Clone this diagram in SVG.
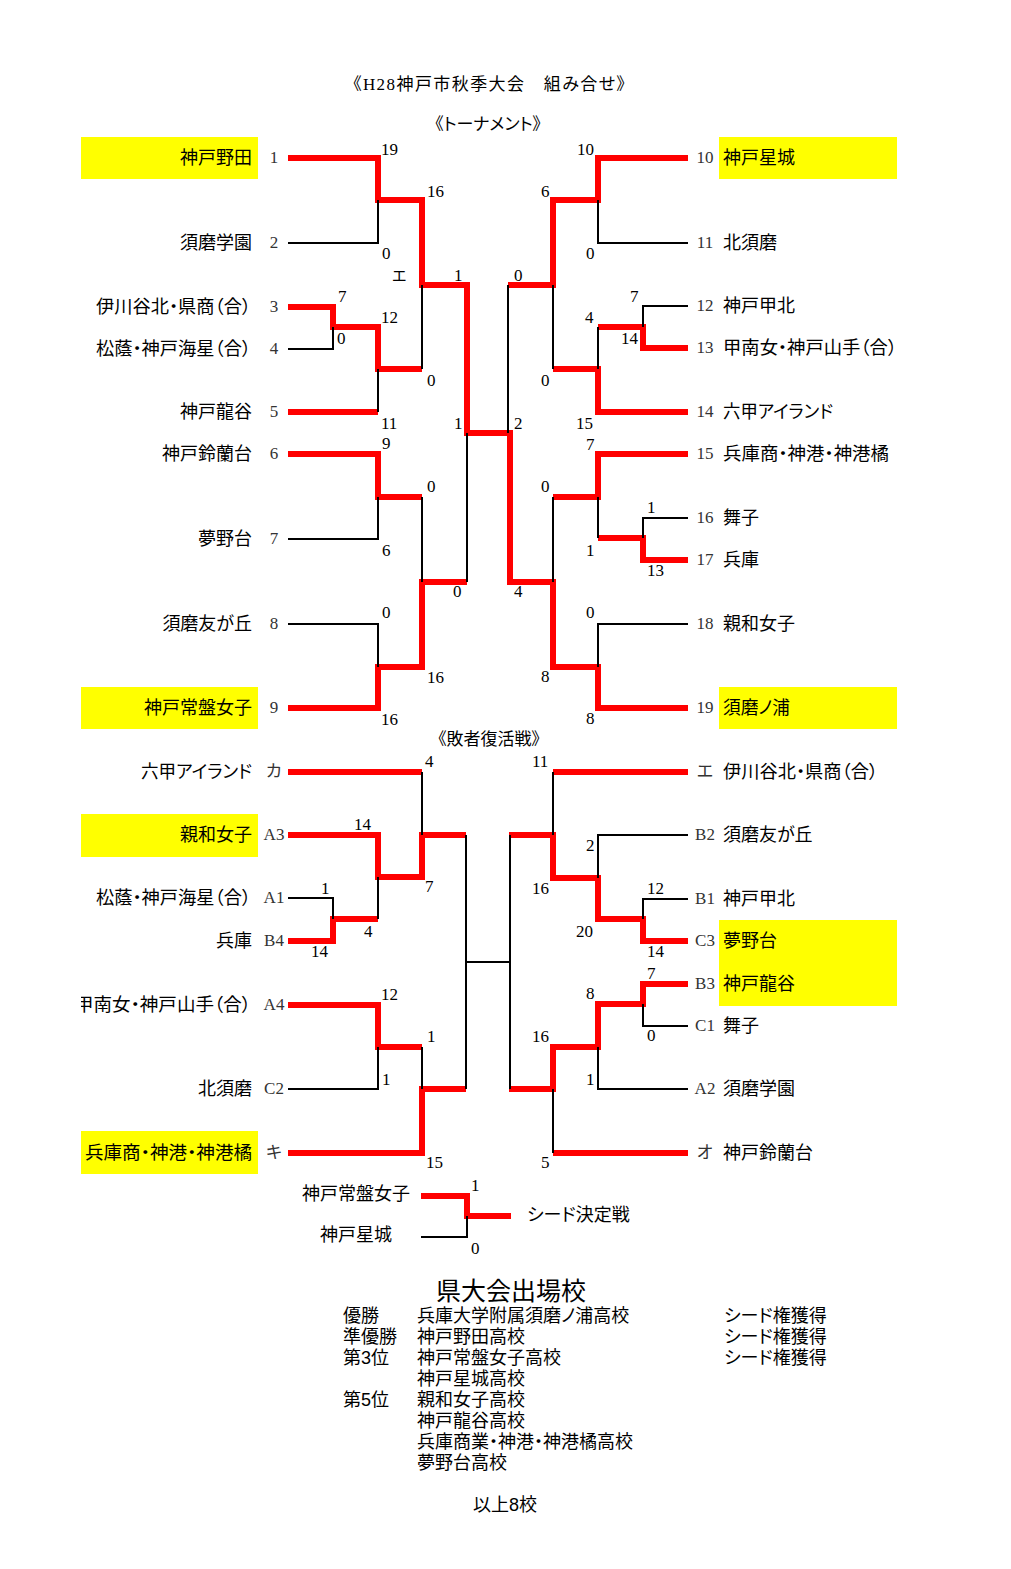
<svg xmlns="http://www.w3.org/2000/svg" width="1011" height="1569" viewBox="0 0 1011 1569">
<style>
.r{fill:none;stroke:#ff0000;stroke-width:6;stroke-linejoin:miter}
.b{fill:none;stroke:#000;stroke-width:2}
.y{fill:#ffff00}
.n{font-family:"Noto Sans CJK JP","Liberation Serif",sans-serif;font-size:18px;fill:#000;font-feature-settings:"palt"}
.nl{text-anchor:end}
.lb{font-family:"Liberation Serif","Noto Sans CJK JP",serif;font-size:17px;fill:#333;text-anchor:middle}
.s{font-family:"Liberation Serif",serif;font-size:17px;fill:#000}
.h{font-family:"Liberation Serif","Noto Sans CJK JP",serif;font-size:17px;fill:#000;font-feature-settings:"palt"}
.g{font-family:"Liberation Sans","Noto Sans CJK JP",sans-serif;font-size:18px;fill:#000;font-feature-settings:"palt"}
.big{font-size:25px}
.sm{font-size:15px}
</style>
<defs>
<clipPath id="clipL"><rect x="81" y="0" width="930" height="1569"/></clipPath>
</defs>
<rect width="1011" height="1569" fill="#fff"/>

<g id="headings">
<text class="h" x="353" y="90" textLength="272">《H28神戸市秋季大会　組み合せ》</text>
<text class="h" x="488" y="130" text-anchor="middle">《トーナメント》</text>
<text class="h" x="489" y="745" text-anchor="middle">《敗者復活戦》</text>
</g>

<g id="connectors">
<path class="r" d="M288,158 H378 V200 H422 V285 H467 V433 H510 V582 H553 V667 H598 V708 H688"/>
<path class="r" d="M288,307 H333 V327 H378 V369 H422"/>
<path class="r" d="M288,412 H378"/>
<path class="r" d="M288,454 H378 V497 H422"/>
<path class="r" d="M288,708 H378 V667 H422 V582 H467"/>
<path class="r" d="M688,158 H598 V200 H553 V285 H508"/>
<path class="r" d="M688,348 H643 V327 H598"/>
<path class="r" d="M688,412 H598 V369 H553"/>
<path class="r" d="M688,454 H598 V497 H553"/>
<path class="r" d="M688,560 H643 V538 H598"/>
<path class="b" d="M288,243 H378 V200"/>
<path class="b" d="M288,349 H333 V327"/>
<path class="b" d="M378,369 V412"/>
<path class="b" d="M422,285 V369"/>
<path class="b" d="M288,539 H378 V497"/>
<path class="b" d="M422,497 V582"/>
<path class="b" d="M288,624 H378 V667"/>
<path class="b" d="M467,433 V582"/>
<path class="b" d="M688,243 H598 V200"/>
<path class="b" d="M688,306 H643 V327"/>
<path class="b" d="M598,327 V369"/>
<path class="b" d="M553,285 V369"/>
<path class="b" d="M508,285 V433"/>
<path class="b" d="M598,497 V538"/>
<path class="b" d="M688,518 H643 V538"/>
<path class="b" d="M553,497 V582"/>
<path class="b" d="M688,624 H598 V667"/>
<path class="r" d="M288,772 H422"/>
<path class="r" d="M288,835 H378 V877 H422 V835 H466"/>
<path class="r" d="M288,941 H333 V919 H378"/>
<path class="r" d="M288,1005 H378 V1047 H422"/>
<path class="r" d="M288,1153 H422 V1089 H466"/>
<path class="r" d="M688,772 H553"/>
<path class="r" d="M688,941 H643 V919 H598 V878 H553 V835 H509"/>
<path class="r" d="M688,984 H643 V1004 H598 V1047 H553 V1089 H509"/>
<path class="r" d="M688,1153 H553"/>
<path class="b" d="M422,772 V835"/>
<path class="b" d="M288,898 H333 V919"/>
<path class="b" d="M378,877 V919"/>
<path class="b" d="M288,1089 H378 V1047"/>
<path class="b" d="M422,1047 V1089"/>
<path class="b" d="M466,835 V1089"/>
<path class="b" d="M510,835 V1089"/>
<path class="b" d="M466,962 H510"/>
<path class="b" d="M553,772 V835"/>
<path class="b" d="M688,835 H598 V878"/>
<path class="b" d="M688,899 H643 V919"/>
<path class="b" d="M688,1026 H643 V1004"/>
<path class="b" d="M688,1089 H598 V1047"/>
<path class="b" d="M553,1089 V1153"/>
<path class="r" d="M421,1196 H467 V1216 H511"/>
<path class="b" d="M421,1237 H467 V1216"/>
</g>

<g id="scores" class="s">
<text x="381" y="155">19</text>
<text x="427" y="197">16</text>
<text x="382" y="259">0</text>
<text x="454" y="281">1</text>
<text x="338" y="302">7</text>
<text x="381" y="323">12</text>
<text x="337" y="344">0</text>
<text x="427" y="386">0</text>
<text x="381" y="429">11</text>
<text x="454" y="429">1</text>
<text x="382" y="449">9</text>
<text x="427" y="492">0</text>
<text x="382" y="556">6</text>
<text x="453" y="597">0</text>
<text x="382" y="618">0</text>
<text x="427" y="683">16</text>
<text x="381" y="725">16</text>
<text x="577" y="155">10</text>
<text x="541" y="197">6</text>
<text x="586" y="259">0</text>
<text x="514" y="281">0</text>
<text x="630" y="302">7</text>
<text x="585" y="323">4</text>
<text x="621" y="344">14</text>
<text x="541" y="386">0</text>
<text x="576" y="429">15</text>
<text x="514" y="429">2</text>
<text x="586" y="450">7</text>
<text x="541" y="492">0</text>
<text x="647" y="513">1</text>
<text x="586" y="556">1</text>
<text x="647" y="576">13</text>
<text x="514" y="597">4</text>
<text x="586" y="618">0</text>
<text x="541" y="682">8</text>
<text x="586" y="724">8</text>
<text x="425" y="767">4</text>
<text x="354" y="830">14</text>
<text x="425" y="892">7</text>
<text x="321" y="894">1</text>
<text x="364" y="937">4</text>
<text x="311" y="957">14</text>
<text x="381" y="1000">12</text>
<text x="427" y="1042">1</text>
<text x="382" y="1085">1</text>
<text x="426" y="1168">15</text>
<text x="532" y="767">11</text>
<text x="586" y="851">2</text>
<text x="532" y="894">16</text>
<text x="647" y="894">12</text>
<text x="576" y="937">20</text>
<text x="647" y="957">14</text>
<text x="647" y="979">7</text>
<text x="586" y="999">8</text>
<text x="532" y="1042">16</text>
<text x="647" y="1041">0</text>
<text x="586" y="1085">1</text>
<text x="541" y="1168">5</text>
<text x="471" y="1191">1</text>
<text x="471" y="1254">0</text>
</g>
<text class="h sm" x="392" y="281">エ</text>

<g id="t1"><rect class="y" x="81" y="137" width="177" height="42"/><text class="n nl" x="252" y="164">神戸野田</text><text class="lb" x="274" y="163">1</text></g>
<g id="t2"><text class="n nl" x="252" y="249">須磨学園</text><text class="lb" x="274" y="248">2</text></g>
<g id="t3"><text class="n nl" x="251" y="313" textLength="155" lengthAdjust="spacingAndGlyphs">伊川谷北・県商（合）</text><text class="lb" x="274" y="312">3</text></g>
<g id="t4"><text class="n nl" x="251" y="355" textLength="155" lengthAdjust="spacingAndGlyphs">松蔭・神戸海星（合）</text><text class="lb" x="274" y="354">4</text></g>
<g id="t5"><text class="n nl" x="252" y="418">神戸龍谷</text><text class="lb" x="274" y="417">5</text></g>
<g id="t6"><text class="n nl" x="252" y="460">神戸鈴蘭台</text><text class="lb" x="274" y="459">6</text></g>
<g id="t7"><text class="n nl" x="252" y="545">夢野台</text><text class="lb" x="274" y="544">7</text></g>
<g id="t8"><text class="n nl" x="252" y="630">須磨友が丘</text><text class="lb" x="274" y="629">8</text></g>
<g id="t9"><rect class="y" x="81" y="687" width="177" height="42"/><text class="n nl" x="252" y="714">神戸常盤女子</text><text class="lb" x="274" y="713">9</text></g>

<g id="t10"><rect class="y" x="719" y="137" width="178" height="42"/><text class="lb" x="705" y="163">10</text><text class="n" x="723" y="164">神戸星城</text></g>
<g id="t11"><text class="lb" x="705" y="248">11</text><text class="n" x="723" y="249">北須磨</text></g>
<g id="t12"><text class="lb" x="705" y="311">12</text><text class="n" x="723" y="312">神戸甲北</text></g>
<g id="t13"><text class="lb" x="705" y="353">13</text><text class="n" x="723" y="354" textLength="174" lengthAdjust="spacingAndGlyphs">甲南女・神戸山手（合）</text></g>
<g id="t14"><text class="lb" x="705" y="417">14</text><text class="n" x="723" y="418" textLength="110" lengthAdjust="spacingAndGlyphs">六甲アイランド</text></g>
<g id="t15"><text class="lb" x="705" y="459">15</text><text class="n" x="723" y="460" textLength="166" lengthAdjust="spacingAndGlyphs">兵庫商・神港・神港橘</text></g>
<g id="t16"><text class="lb" x="705" y="523">16</text><text class="n" x="723" y="524">舞子</text></g>
<g id="t17"><text class="lb" x="705" y="565">17</text><text class="n" x="723" y="566">兵庫</text></g>
<g id="t18"><text class="lb" x="705" y="629">18</text><text class="n" x="723" y="630">親和女子</text></g>
<g id="t19"><rect class="y" x="719" y="687" width="178" height="42"/><text class="lb" x="705" y="713">19</text><text class="n" x="723" y="714" textLength="67" lengthAdjust="spacingAndGlyphs">須磨ノ浦</text></g>

<g id="r-ka"><text class="n nl" x="252" y="778" textLength="111" lengthAdjust="spacingAndGlyphs">六甲アイランド</text><text class="lb" x="274" y="777">カ</text></g>
<g id="r-a3"><rect class="y" x="81" y="814" width="177" height="43"/><text class="n nl" x="252" y="841">親和女子</text><text class="lb" x="274" y="840">A3</text></g>
<g id="r-a1"><text class="n nl" x="251" y="904" textLength="155" lengthAdjust="spacingAndGlyphs">松蔭・神戸海星（合）</text><text class="lb" x="274" y="903">A1</text></g>
<g id="r-b4"><text class="n nl" x="252" y="947">兵庫</text><text class="lb" x="274" y="946">B4</text></g>
<g id="r-a4"><text class="n nl" x="251" y="1011" textLength="176" lengthAdjust="spacingAndGlyphs" clip-path="url(#clipL)">甲南女・神戸山手（合）</text><text class="lb" x="274" y="1010">A4</text></g>
<g id="r-c2"><text class="n nl" x="252" y="1095">北須磨</text><text class="lb" x="274" y="1094">C2</text></g>
<g id="r-ki"><rect class="y" x="81" y="1131" width="177" height="43"/><text class="n nl" x="252" y="1159" textLength="167" lengthAdjust="spacingAndGlyphs">兵庫商・神港・神港橘</text><text class="lb" x="274" y="1158">キ</text></g>

<g id="r-e"><text class="lb" x="705" y="777">エ</text><text class="n" x="723" y="778" textLength="155" lengthAdjust="spacingAndGlyphs">伊川谷北・県商（合）</text></g>
<g id="r-b2"><text class="lb" x="705" y="840">B2</text><text class="n" x="723" y="841">須磨友が丘</text></g>
<g id="r-b1"><text class="lb" x="705" y="904">B1</text><text class="n" x="723" y="905">神戸甲北</text></g>
<rect class="y" x="719" y="920" width="178" height="86"/>
<g id="r-c3"><text class="lb" x="705" y="946">C3</text><text class="n" x="723" y="947">夢野台</text></g>
<g id="r-b3"><text class="lb" x="705" y="989">B3</text><text class="n" x="723" y="990">神戸龍谷</text></g>
<g id="r-c1"><text class="lb" x="705" y="1031">C1</text><text class="n" x="723" y="1032">舞子</text></g>
<g id="r-a2"><text class="lb" x="705" y="1094">A2</text><text class="n" x="723" y="1095">須磨学園</text></g>
<g id="r-o"><text class="lb" x="705" y="1158">オ</text><text class="n" x="723" y="1159">神戸鈴蘭台</text></g>

<g id="s1"><text class="n nl" x="410" y="1200">神戸常盤女子</text></g>
<g id="s2"><text class="n nl" x="392" y="1241">神戸星城</text></g>
<g id="s3"><text class="n" x="527" y="1221">シード決定戦</text></g>

<g id="results">
<text class="g big" x="436" y="1300">県大会出場校</text>
<text class="g" x="343" y="1322">優勝</text>
<text class="g" x="417" y="1322">兵庫大学附属須磨ノ浦高校</text>
<text class="g" x="724" y="1322">シード権獲得</text>
<text class="g" x="343" y="1343">準優勝</text>
<text class="g" x="417" y="1343">神戸野田高校</text>
<text class="g" x="724" y="1343">シード権獲得</text>
<text class="g" x="343" y="1364">第3位</text>
<text class="g" x="417" y="1364">神戸常盤女子高校</text>
<text class="g" x="724" y="1364">シード権獲得</text>
<text class="g" x="417" y="1385">神戸星城高校</text>
<text class="g" x="343" y="1406">第5位</text>
<text class="g" x="417" y="1406">親和女子高校</text>
<text class="g" x="417" y="1427">神戸龍谷高校</text>
<text class="g" x="417" y="1448">兵庫商業・神港・神港橘高校</text>
<text class="g" x="417" y="1469">夢野台高校</text>
<text class="g" x="473" y="1511">以上8校</text>
</g>
</svg>
